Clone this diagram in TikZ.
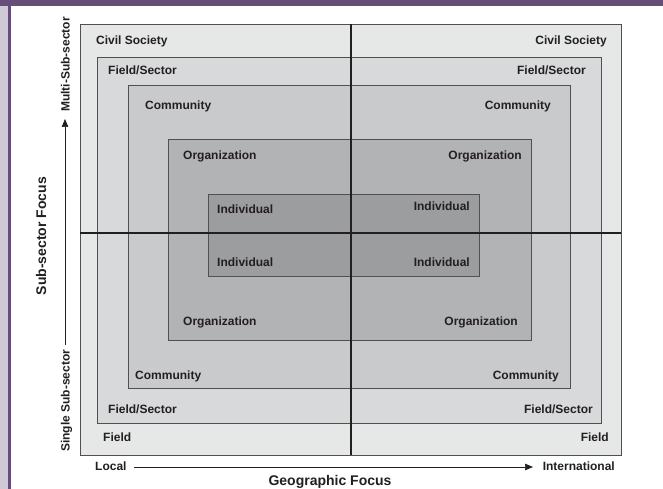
\documentclass[tikz,border=0pt]{standalone}
\usepackage{fontspec}
\setmainfont{Liberation Sans}
\usetikzlibrary{arrows.meta}
\definecolor{framepurple}{HTML}{654F78}
\definecolor{framepale}{HTML}{CFCAD6}
\definecolor{cOuter}{HTML}{E6E7E7}
\definecolor{cField}{HTML}{D8D9DA}
\definecolor{cComm}{HTML}{C9CACC}
\definecolor{cOrg}{HTML}{B2B3B5}
\definecolor{cInd}{HTML}{9C9D9F}
\definecolor{ink}{HTML}{231F20}
\definecolor{edge}{HTML}{505050}
\begin{document}
\begin{tikzpicture}[x=1pt,y=-1pt,
  box/.style={draw=edge, line width=0.8pt, inner sep=0pt, anchor=north west},
  lbl/.style={font=\fontsize{12}{14}\selectfont\bfseries, text=ink, inner sep=0pt},
  ttl/.style={font=\fontsize{14}{16}\selectfont\bfseries, text=ink, inner sep=0pt},
  axis/.style={draw=ink, line width=2.6pt},
  arr/.style={draw=ink, line width=0.7pt, -{Triangle[length=8pt,width=6.5pt]}}]
\useasboundingbox (0,0) rectangle (663,489);
\fill[white] (0,0) rectangle (663,489);
\fill[framepale] (0,0) rectangle (8,489);
\fill[framepurple] (8,0) rectangle (11,489);
\fill[framepurple] (0,0) rectangle (663,6);
% nested boxes
\node[box, fill=cOuter, minimum width=541pt, minimum height=431pt] (outer) at (80,24) {};
\node[box, fill=cField, minimum width=504pt, minimum height=366pt] (field) at (97,57) {};
\node[box, fill=cComm, minimum width=442pt, minimum height=303pt] (comm) at (128,85) {};
\node[box, fill=cOrg, minimum width=363pt, minimum height=201pt] (org) at (168,139) {};
\node[box, fill=cInd, minimum width=271pt, minimum height=82pt] (ind) at (208,194) {};
% axes lines
\coordinate (vt) at (351,24);
\coordinate (vb) at (351,455);
\coordinate (hl) at (80,233);
\coordinate (hr) at (621,233);
\draw[axis] (vt) -- (vb);
\draw[axis] (hl) -- (hr);
% labels
\node[lbl, anchor=base west] (cs1) at (96,44.5) {Civil Society};
\node[lbl, anchor=base east] (cs2) at (607,44.5) {Civil Society};
\node[lbl, anchor=base west] (fs1) at (108,74.5) {Field/Sector};
\node[lbl, anchor=base east] (fs2) at (586,74.5) {Field/Sector};
\node[lbl, anchor=base west] (cm1) at (145,109.5) {Community};
\node[lbl, anchor=base east] (cm2) at (551,109.5) {Community};
\node[lbl, anchor=base west] (or1) at (183,159.5) {Organization};
\node[lbl, anchor=base east] (or2) at (522,159.5) {Organization};
\node[lbl, anchor=base west] (in1) at (217,213.5) {Individual};
\node[lbl, anchor=base east] (in2) at (470,210.5) {Individual};
\node[lbl, anchor=base west] (in3) at (217,266.5) {Individual};
\node[lbl, anchor=base east] (in4) at (470,266.5) {Individual};
\node[lbl, anchor=base west] (or3) at (183,325.5) {Organization};
\node[lbl, anchor=base east] (or4) at (518,325.5) {Organization};
\node[lbl, anchor=base west] (cm3) at (135,379.5) {Community};
\node[lbl, anchor=base east] (cm4) at (559,379.5) {Community};
\node[lbl, anchor=base west] (fs3) at (108,413.5) {Field/Sector};
\node[lbl, anchor=base east] (fs4) at (593,413.5) {Field/Sector};
\node[lbl, anchor=base west] (fd1) at (103,441.5) {Field};
\node[lbl, anchor=base east] (fd2) at (609,441.5) {Field};
% horizontal axis
\node[lbl, anchor=base west] (local) at (95,470.5) {Local};
\node[lbl, anchor=base east] (intl) at (615,470.5) {International};
\coordinate (ha) at (134,467);
\coordinate (hb) at (533,467);
\draw[arr] (ha) -- (hb);
\node[ttl, anchor=base] (geo) at (330,485.5) {Geographic Focus};
% vertical axis
\node[ttl, rotate=90] (sub) at (41,236) {Sub-sector Focus};
\node[lbl, rotate=90, anchor=base west] (single) at (69.5,452) {Single Sub-sector};
\node[lbl, rotate=90, anchor=base east] (multi) at (69.5,17) {Multi-Sub-sector};
\coordinate (va) at (65,345);
\coordinate (vb2) at (65,119);
\draw[arr] (va) -- (vb2);
\end{tikzpicture}
\end{document}
